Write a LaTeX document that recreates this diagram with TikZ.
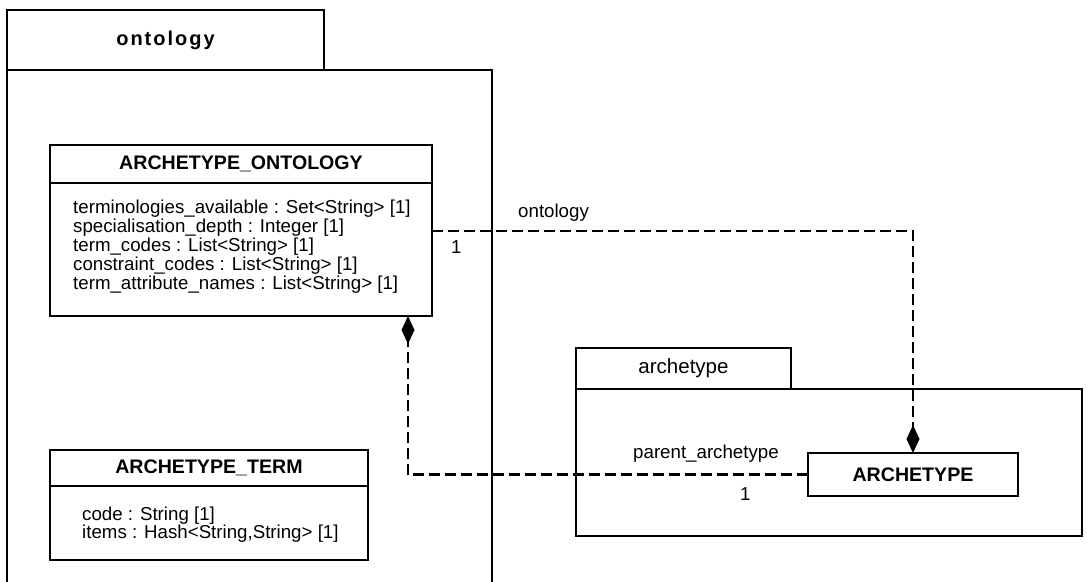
\documentclass[tikz,border=0pt]{standalone}
\usepackage{fontspec}
\setmainfont{Liberation Sans}
\usetikzlibrary{arrows.meta,calc}
\begin{document}
\begin{tikzpicture}[x=1pt,y=-1pt,
  box/.style={draw, line width=2.2pt, inner sep=0pt, outer sep=0pt, anchor=north west},
  ttl/.style={font=\fontsize{19.6}{21}\selectfont\bfseries},
  txt/.style={font=\fontsize{18.7}{19}\selectfont, anchor=base west, inner sep=0pt},
  pkgline/.style={draw, line width=2.2pt},
  assoc/.style={line width=2.4pt, dash pattern=on 11pt off 5pt},
  comp/.style={-{Diamond[length=28pt,width=13pt,fill=black]}}]
\useasboundingbox (0,0) rectangle (1087,581);

% ontology package
\node[box, minimum width=317, minimum height=60,
      font=\fontsize{20}{22}\selectfont\bfseries\addfontfeature{LetterSpace=10}] (ontab) at (7,10) {ontology};
\draw[pkgline] (ontab.south west) -- (7,590);
\draw[pkgline] (ontab.south west) -- (492,70) -- (492,590);

% archetype package
\node[box, minimum width=215, minimum height=41, font=\fontsize{20.5}{22}\selectfont] (artab) at (576,348) {archetype};
\node[box, minimum width=506, minimum height=147] (arbody) at (artab.south west) {};

% ARCHETYPE_ONTOLOGY
\node[box, minimum width=382, minimum height=38, ttl] (aot) at (50,145) {ARCHETYPE\_ONTOLOGY};
\node[box, minimum width=382, minimum height=133] (aob) at (aot.south west) {};
\node[txt] (ao1) at ($(aob.north west)+(23,30)$) {terminologies\_available : Set<String> [1]};
\node[txt] (ao2) at ($(aob.north west)+(23,49)$) {specialisation\_depth : Integer [1]};
\node[txt] (ao3) at ($(aob.north west)+(23,68)$) {term\_codes : List<String> [1]};
\node[txt] (ao4) at ($(aob.north west)+(23,87)$) {constraint\_codes : List<String> [1]};
\node[txt] (ao5) at ($(aob.north west)+(23,106)$) {term\_attribute\_names : List<String> [1]};

% ARCHETYPE_TERM
\node[box, minimum width=318, minimum height=36, ttl] (att) at (50,450) {ARCHETYPE\_TERM};
\node[box, minimum width=318, minimum height=74] (atb) at (att.south west) {};
\node[txt] (at1) at ($(atb.north west)+(32,34)$) {code : String [1]};
\node[txt] (at2) at ($(atb.north west)+(32,52)$) {items : Hash<String,String> [1]};

% ARCHETYPE
\node[box, minimum width=210, minimum height=43, ttl] (ar) at (808,453) {ARCHETYPE};

% associations
\draw[assoc, comp] (aob.north east) ++(0,48) -| (ar.north);
\node[txt] (lon) at (518,217) {ontology};
\node[txt] (lon1) at (451,253) {1};

\coordinate (pa) at ($(aob.south east)+(-24,0)$);
\draw[assoc, comp] (ar.west) -| (pa);
\node[txt] (lpa) at (633,458) {parent\_archetype};
\node[txt] (lpa1) at (740,500) {1};
\end{tikzpicture}
\end{document}
